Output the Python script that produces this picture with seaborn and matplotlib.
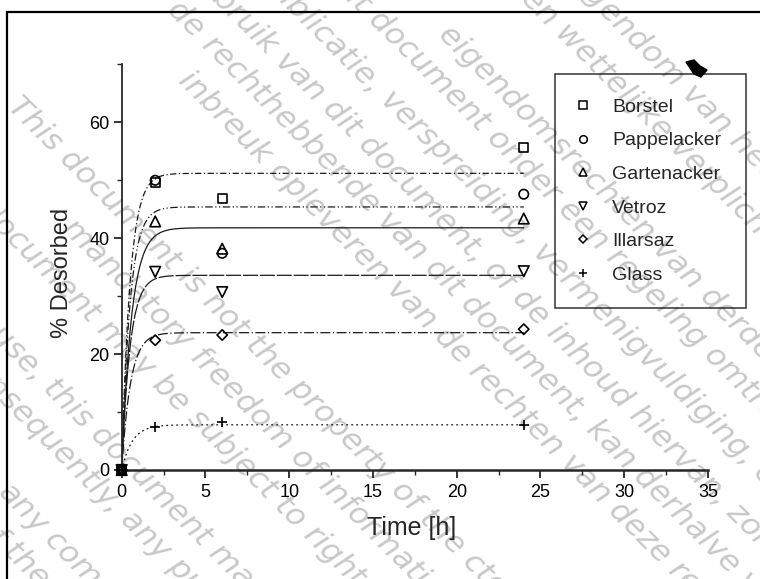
import numpy as np
import pandas as pd
import matplotlib
matplotlib.use("Agg")
import matplotlib.pyplot as plt
from matplotlib.lines import Line2D
from matplotlib.patches import Rectangle, Polygon
import seaborn as sns

# --- desorption data -------------------------------------------------------
times = [0, 2, 6, 24]
soils = ["Borstel", "Pappelacker", "Gartenacker", "Vetroz", "Illarsaz", "Glass"]
borstel = [0, 49.7, 46.9, 55.7]
pappelacker = [0, 50.0, 37.4, 47.6]
gartenacker = [0, 42.9, 38.2, 43.4]
vetroz = [0, 34.2, 30.7, 34.3]
illarsaz = [0, 22.4, 23.3, 24.3]
glass = [0, 7.4, 8.3, 7.8]

# first-order desorption fits: plateau (%) and rate constant (1/h)
fit_plateau = [51.2, 45.4, 41.8, 33.6, 23.7, 7.8]
fit_rate = [2.0, 2.0, 1.7, 2.0, 1.9, 1.6]
fit_end = 24.0

x_ticks = [0, 5, 10, 15, 20, 25, 30, 35]
y_ticks = [0, 20, 40, 60]

series = [borstel, pappelacker, gartenacker, vetroz, illarsaz, glass]
markers = ["s", "o", "^", "v", "D", "+"]
msizes = [42, 46, 58, 58, 28, 55]
linestyles = [(0, (5, 2, 1, 2)), (0, (6, 2, 1, 2, 1, 2)), "-",
              (0, (12, 1.5)), (0, (8, 2, 1, 2)), (0, (1.5, 2.5))]

df = pd.DataFrame({
    "time": times * len(soils),
    "desorbed": sum(series, []),
    "soil": np.repeat(soils, len(times)),
})

W, H, DPI = 760, 579, 100
sns.set_style("white")
plt.rcParams["font.family"] = ["Liberation Sans", "DejaVu Sans"]

fig = plt.figure(figsize=(W / DPI, H / DPI), dpi=DPI)
fig.patch.set_facecolor("white")


def fx(px):
    return px / W


def fy(py):
    return 1 - py / H


# --- grey diagonal stamp text ---------------------------------------------
stamp = [
    (603, 5, "eig", "endom van het"),
    (560, 28, "kunnen ", "wettelijke verplichting"),
    (443, 30, "", "eigendomsrechten van derden, auteursrecht"),
    (373, 15, "dit ", "document onder een regeling omtrent"),
    (385, 95, "publicatie, ", "verspreiding, vermenigvuldiging, commercieel"),
    (280, 56, "gebruik ", "van dit document, of de inhoud hiervan, zonder"),
    (207, 40, "de ", "rechthebbende van dit document, kan derhalve verboden"),
    (183, 76, "", "inbreuk opleveren van de rechten van deze rechthebbende"),
    (12, 102, "", "This document is not the property of the ctgb"),
    (195, 352, "mandatory ", "freedom of information"),
    (192, 414, "this document may be ", "subject to rights of third"),
    (95, 430, "use, this ", "document may"),
    (125, 515, "consequently, ", "any publication"),
    (30, 515, "an", "y commercial"),
    (8, 548, "of ", "the"),
]
for x, y, before, after in stamp:
    kw = dict(rotation=-45, rotation_mode="anchor", va="center",
              color="#c8c8c8", fontsize=22.5, family="DejaVu Sans",
              style="oblique", zorder=-5)
    fig.text(fx(x), fy(y), after, ha="left", **kw)
    if before:
        fig.text(fx(x), fy(y), before, ha="right", **kw)

# page frame
fig.patches.append(Rectangle((fx(7), -0.1), 1.2, fy(12) + 0.1,
                             transform=fig.transFigure, fill=False,
                             edgecolor="black", linewidth=1.6, zorder=1))

# --- axes ------------------------------------------------------------------
ax = fig.add_axes([fx(121.7), fy(470), fx(708) - fx(121.7), fy(64.4) - fy(470)])
ax.patch.set_alpha(0)

t_fit = np.linspace(0, fit_end, 400)
for name, a, k, ls in zip(soils, fit_plateau, fit_rate, linestyles):
    sns.lineplot(x=t_fit, y=a * (1 - np.exp(-k * t_fit)), ax=ax,
                 color="#1a1a1a", linewidth=0.9, linestyle=ls, zorder=2)

for name, m, s in zip(soils, markers, msizes):
    sub = df[df["soil"] == name]
    if m == "+":
        sns.scatterplot(data=sub, x="time", y="desorbed", ax=ax, marker=m,
                        s=s, color="black", linewidth=1.2, clip_on=False,
                        zorder=4)
    else:
        sns.scatterplot(data=sub, x="time", y="desorbed", ax=ax, marker=m,
                        s=s, facecolor="none", edgecolor="black",
                        linewidth=1.2, clip_on=False, zorder=4)

ax.set_xlim(0, 35)
ax.set_ylim(0, 70)
ax.set_xticks(x_ticks)
ax.set_yticks(y_ticks)
ax.set_xticks(np.arange(2.5, 35, 5), minor=True)
ax.set_yticks([10, 30, 50, 70], minor=True)
ax.set_xlabel("")
ax.set_ylabel("")

for side in ("top", "right"):
    ax.spines[side].set_visible(False)
ax.spines["left"].set_linewidth(1.3)
ax.spines["bottom"].set_linewidth(1.8)
ax.tick_params(which="major", direction="out", length=5.8, width=1.1,
               labelsize=13, pad=3, colors="black")
ax.tick_params(axis="x", which="major", pad=4)
ax.tick_params(which="minor", direction="out", length=3.6, width=1.0)
ax.tick_params(left=True, bottom=True, which="both")

fig.text(fx(412), fy(528), "Time [h]", ha="center", va="center", fontsize=18)
fig.text(fx(62), fy(273), "% Desorbed", ha="center", va="center",
         rotation=90, fontsize=17)

# --- legend ----------------------------------------------------------------
handles = []
for m in markers:
    if m == "+":
        handles.append(Line2D([], [], linestyle="none", marker=m, color="black",
                              markersize=6, markeredgewidth=1.1))
    else:
        handles.append(Line2D([], [], linestyle="none", marker=m,
                              markerfacecolor="none", markeredgecolor="black",
                              markersize=5.5 if m != "D" else 4.5,
                              markeredgewidth=1.1))
leg = ax.legend(handles, soils, loc="upper left",
                bbox_to_anchor=(fx(555), fy(74)), bbox_transform=fig.transFigure,
                frameon=True, fancybox=False, edgecolor="black", fontsize=14,
                borderpad=1.25, labelspacing=0.82, handlelength=0.4,
                handletextpad=1.3, borderaxespad=0)
leg.get_frame().set_facecolor("none")
leg.get_frame().set_linewidth(1.1)

# small ink blot on the legend edge
fig.patches.append(Polygon([[fx(686), fy(62)], [fx(694), fy(60)], [fx(700), fy(66)],
                            [fx(707), fy(70)], [fx(701), fy(77)], [fx(694), fy(74)]],
                           closed=True, transform=fig.transFigure,
                           facecolor="black", edgecolor="black", zorder=6))

fig.savefig("out.png", dpi=DPI)
